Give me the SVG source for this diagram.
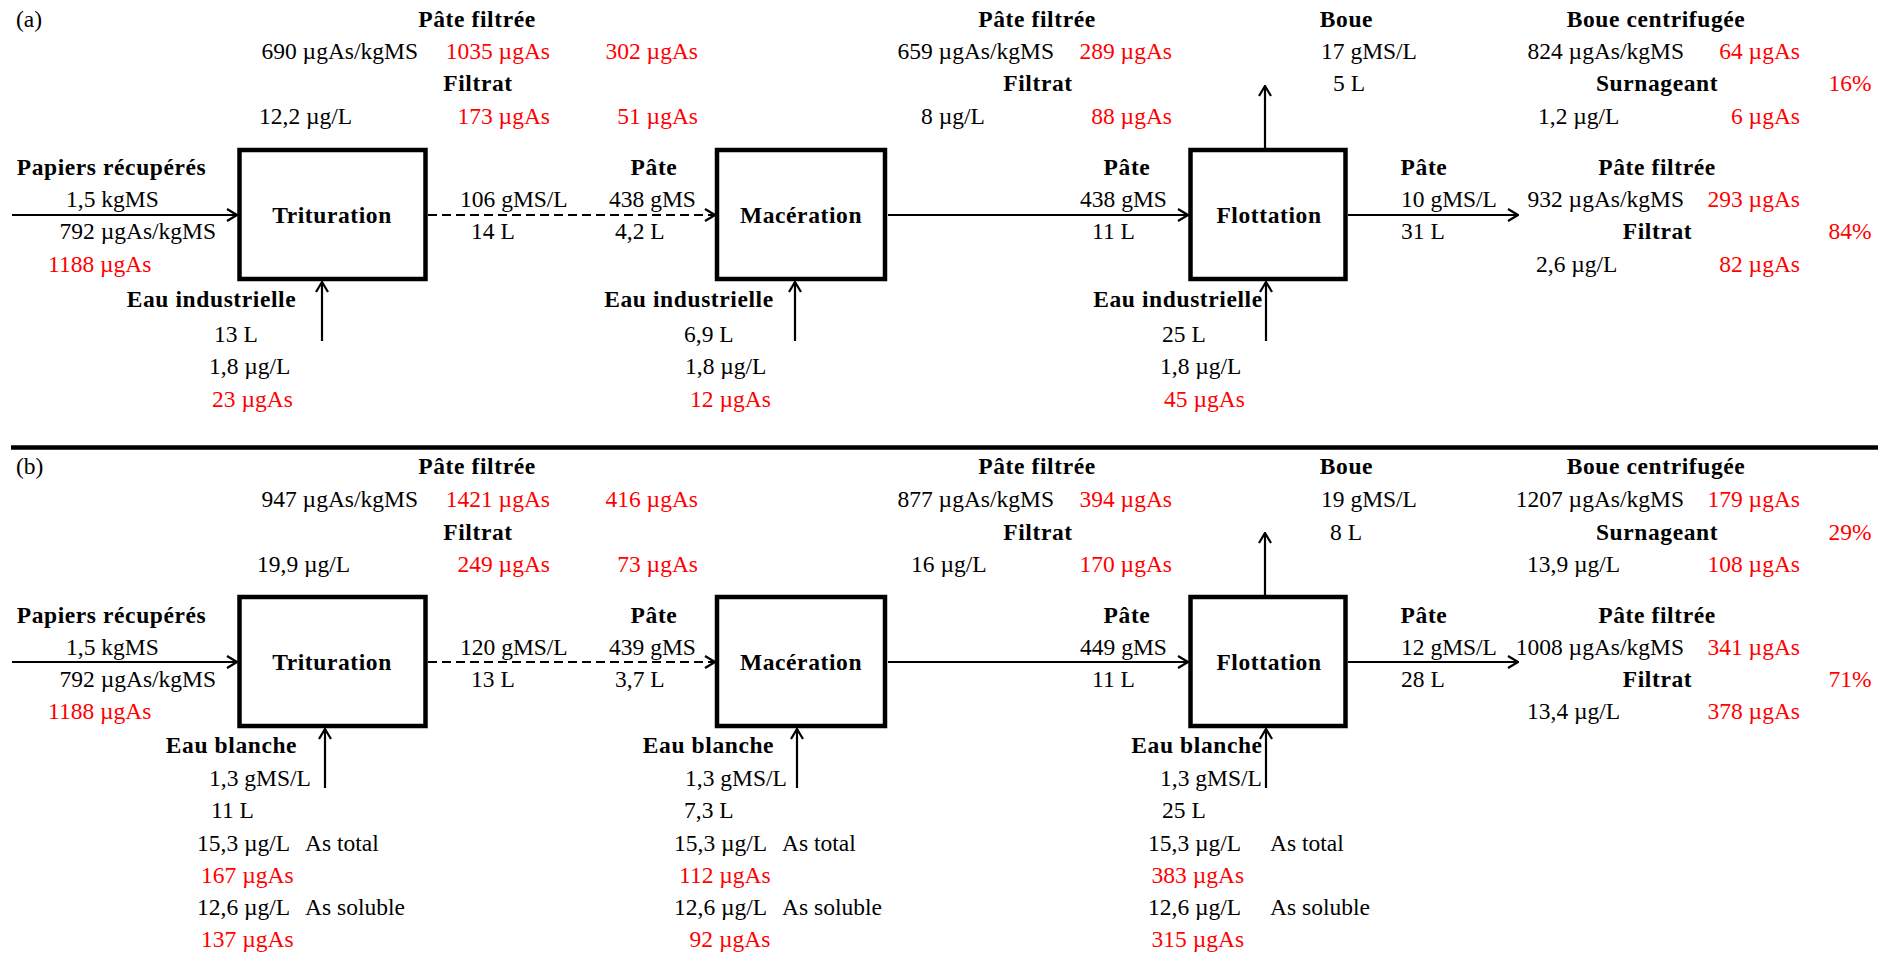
<svg xmlns="http://www.w3.org/2000/svg" width="1890" height="956" viewBox="0 0 1890 956">
<defs>
<style>
text{font-family:"Liberation Serif","Times New Roman",serif;font-size:23.5px;fill:#000}
.b{font-weight:bold;text-anchor:middle;letter-spacing:0.6px}
.r{fill:#ff0000}
.e{text-anchor:end}
.box{fill:#fff;stroke:#000;stroke-width:4.5}
.c{fill:none;stroke:#000;stroke-width:2.2;marker-end:url(#ah)}
.d{stroke-dasharray:9 5}
</style>
<marker id="ah" viewBox="0 0 12 14" refX="11" refY="7" markerWidth="12" markerHeight="14" markerUnits="userSpaceOnUse" orient="auto">
<path d="M1,1 L11,7 L1,13" fill="none" stroke="#000" stroke-width="2.2"/>
</marker>
</defs>
<rect width="1890" height="956" fill="#fff"/>

<g id="connectors">
<line class="c" x1="12" y1="215" x2="237" y2="215"/>
<line class="c d" x1="428" y1="215" x2="715" y2="215"/>
<line class="c" x1="888" y1="215" x2="1188" y2="215"/>
<line class="c" x1="1348" y1="215" x2="1518" y2="215"/>
<line class="c" x1="1265" y1="148" x2="1265" y2="86"/>
<line class="c" x1="322" y1="341" x2="322" y2="282"/>
<line class="c" x1="795" y1="341" x2="795" y2="282"/>
<line class="c" x1="1266" y1="341" x2="1266" y2="282"/>
<line class="c" x1="12" y1="662" x2="237" y2="662"/>
<line class="c d" x1="428" y1="662" x2="715" y2="662"/>
<line class="c" x1="888" y1="662" x2="1188" y2="662"/>
<line class="c" x1="1348" y1="662" x2="1518" y2="662"/>
<line class="c" x1="1265" y1="595" x2="1265" y2="533"/>
<line class="c" x1="325" y1="788" x2="325" y2="729"/>
<line class="c" x1="797" y1="788" x2="797" y2="729"/>
<line class="c" x1="1266" y1="788" x2="1266" y2="729"/>
</g>

<line id="separator" x1="11" y1="447.5" x2="1878" y2="447.5" stroke="#000" stroke-width="4.5"/>

<!-- Section (a) -->
<g id="a-label"><text x="16" y="27">(a)</text></g>

<g id="a-trituration">
<rect class="box" x="239.5" y="150" width="186" height="129"/>
<text class="b" x="332" y="223">Trituration</text>
</g>
<g id="a-maceration">
<rect class="box" x="717" y="150" width="168" height="129"/>
<text class="b" x="801" y="223">Macération</text>
</g>
<g id="a-flottation">
<rect class="box" x="1190.5" y="150" width="155" height="129"/>
<text class="b" x="1269" y="223">Flottation</text>
</g>

<g id="a-trit-out">
<text class="b" x="477" y="27">Pâte filtrée</text>
<text class="e" x="418" y="58.5">690 µgAs/kgMS</text>
<text class="r e" x="550" y="58.5">1035 µgAs</text>
<text class="r e" x="698" y="58.5">302 µgAs</text>
<text class="b" x="478" y="91">Filtrat</text>
<text x="259" y="124">12,2 µg/L</text>
<text class="r e" x="550" y="124">173 µgAs</text>
<text class="r e" x="698" y="124">51 µgAs</text>
</g>
<g id="a-papiers">
<text class="b" x="111.5" y="175">Papiers récupérés</text>
<text x="66" y="207">1,5 kgMS</text>
<text x="59.5" y="239">792 µgAs/kgMS</text>
<text class="r" x="48" y="271.5">1188 µgAs</text>
</g>
<g id="a-eau1">
<text class="b" x="211.5" y="307">Eau industrielle</text>
<text x="214" y="341.5">13 L</text>
<text x="209" y="374">1,8 µg/L</text>
<text class="r" x="212" y="406.5">23 µgAs</text>
</g>
<g id="a-flow1">
<text x="460" y="207">106 gMS/L</text>
<text x="471" y="239">14 L</text>
<text class="b" x="654" y="175">Pâte</text>
<text x="609" y="207">438 gMS</text>
<text x="615" y="239">4,2 L</text>
</g>
<g id="a-eau2">
<text class="b" x="689" y="307">Eau industrielle</text>
<text x="684" y="341.5">6,9 L</text>
<text x="685" y="374">1,8 µg/L</text>
<text class="r" x="690" y="406.5">12 µgAs</text>
</g>
<g id="a-mac-out">
<text class="b" x="1037" y="27">Pâte filtrée</text>
<text class="e" x="1054" y="58.5">659 µgAs/kgMS</text>
<text class="r e" x="1172" y="58.5">289 µgAs</text>
<text class="b" x="1038" y="91">Filtrat</text>
<text x="921" y="124">8 µg/L</text>
<text class="r e" x="1172" y="124">88 µgAs</text>
</g>
<g id="a-flow2">
<text class="b" x="1127" y="175">Pâte</text>
<text x="1080" y="207">438 gMS</text>
<text x="1092" y="239">11 L</text>
</g>
<g id="a-eau3">
<text class="b" x="1178" y="307">Eau industrielle</text>
<text x="1162" y="341.5">25 L</text>
<text x="1160" y="374">1,8 µg/L</text>
<text class="r" x="1164" y="406.5">45 µgAs</text>
</g>
<g id="a-boue">
<text class="b" x="1346.5" y="27">Boue</text>
<text x="1321" y="58.5">17 gMS/L</text>
<text x="1333" y="91">5 L</text>
<text class="b" x="1656" y="27">Boue centrifugée</text>
<text class="e" x="1684" y="58.5">824 µgAs/kgMS</text>
<text class="r e" x="1800" y="58.5">64 µgAs</text>
<text class="b" x="1657" y="91">Surnageant</text>
<text class="r e" x="1871.5" y="91">16%</text>
<text x="1538" y="124">1,2 µg/L</text>
<text class="r e" x="1800" y="124">6 µgAs</text>
</g>
<g id="a-pate-out">
<text class="b" x="1424" y="175">Pâte</text>
<text x="1401" y="207">10 gMS/L</text>
<text x="1401" y="239">31 L</text>
<text class="b" x="1657" y="175">Pâte filtrée</text>
<text class="e" x="1684" y="207">932 µgAs/kgMS</text>
<text class="r e" x="1800" y="207">293 µgAs</text>
<text class="b" x="1657.5" y="239">Filtrat</text>
<text class="r e" x="1871.5" y="239">84%</text>
<text x="1536" y="271.5">2,6 µg/L</text>
<text class="r e" x="1800" y="271.5">82 µgAs</text>
</g>

<!-- Section (b) -->
<g id="b-label"><text x="16" y="473.5">(b)</text></g>

<g id="b-trituration">
<rect class="box" x="239.5" y="597" width="186" height="129"/>
<text class="b" x="332" y="670">Trituration</text>
</g>
<g id="b-maceration">
<rect class="box" x="717" y="597" width="168" height="129"/>
<text class="b" x="801" y="670">Macération</text>
</g>
<g id="b-flottation">
<rect class="box" x="1190.5" y="597" width="155" height="129"/>
<text class="b" x="1269" y="670">Flottation</text>
</g>

<g id="b-trit-out">
<text class="b" x="477" y="473.5">Pâte filtrée</text>
<text class="e" x="418" y="506.5">947 µgAs/kgMS</text>
<text class="r e" x="550" y="506.5">1421 µgAs</text>
<text class="r e" x="698" y="506.5">416 µgAs</text>
<text class="b" x="478" y="539.5">Filtrat</text>
<text x="257" y="571.5">19,9 µg/L</text>
<text class="r e" x="550" y="571.5">249 µgAs</text>
<text class="r e" x="698" y="571.5">73 µgAs</text>
</g>
<g id="b-papiers">
<text class="b" x="111.5" y="623">Papiers récupérés</text>
<text x="66" y="655">1,5 kgMS</text>
<text x="59.5" y="687">792 µgAs/kgMS</text>
<text class="r" x="48" y="719">1188 µgAs</text>
</g>
<g id="b-eau1">
<text class="b" x="231.5" y="753">Eau blanche</text>
<text x="209" y="786">1,3 gMS/L</text>
<text x="211" y="818">11 L</text>
<text x="197" y="850.5">15,3 µg/L</text>
<text x="305" y="850.5">As total</text>
<text class="r" x="201" y="883">167 µgAs</text>
<text x="197" y="915">12,6 µg/L</text>
<text x="305" y="915">As soluble</text>
<text class="r" x="201" y="947">137 µgAs</text>
</g>
<g id="b-flow1">
<text x="460" y="655">120 gMS/L</text>
<text x="471" y="687">13 L</text>
<text class="b" x="654" y="623">Pâte</text>
<text x="609" y="655">439 gMS</text>
<text x="615" y="687">3,7 L</text>
</g>
<g id="b-eau2">
<text class="b" x="708.5" y="753">Eau blanche</text>
<text x="685" y="786">1,3 gMS/L</text>
<text x="684" y="818">7,3 L</text>
<text x="674" y="850.5">15,3 µg/L</text>
<text x="782" y="850.5">As total</text>
<text class="r" x="679" y="883">112 µgAs</text>
<text x="674" y="915">12,6 µg/L</text>
<text x="782" y="915">As soluble</text>
<text class="r" x="689.5" y="947">92 µgAs</text>
</g>
<g id="b-mac-out">
<text class="b" x="1037" y="473.5">Pâte filtrée</text>
<text class="e" x="1054" y="506.5">877 µgAs/kgMS</text>
<text class="r e" x="1172" y="506.5">394 µgAs</text>
<text class="b" x="1038" y="539.5">Filtrat</text>
<text x="911" y="571.5">16 µg/L</text>
<text class="r e" x="1172" y="571.5">170 µgAs</text>
</g>
<g id="b-flow2">
<text class="b" x="1127" y="623">Pâte</text>
<text x="1080" y="655">449 gMS</text>
<text x="1092" y="687">11 L</text>
</g>
<g id="b-eau3">
<text class="b" x="1197" y="753">Eau blanche</text>
<text x="1160" y="786">1,3 gMS/L</text>
<text x="1162" y="818">25 L</text>
<text x="1148" y="850.5">15,3 µg/L</text>
<text x="1270" y="850.5">As total</text>
<text class="r" x="1151.5" y="883">383 µgAs</text>
<text x="1148" y="915">12,6 µg/L</text>
<text x="1270" y="915">As soluble</text>
<text class="r" x="1151.5" y="947">315 µgAs</text>
</g>
<g id="b-boue">
<text class="b" x="1346.5" y="473.5">Boue</text>
<text x="1321" y="506.5">19 gMS/L</text>
<text x="1330" y="539.5">8 L</text>
<text class="b" x="1656" y="473.5">Boue centrifugée</text>
<text class="e" x="1684" y="506.5">1207 µgAs/kgMS</text>
<text class="r e" x="1800" y="506.5">179 µgAs</text>
<text class="b" x="1657" y="539.5">Surnageant</text>
<text class="r e" x="1871.5" y="539.5">29%</text>
<text x="1527" y="571.5">13,9 µg/L</text>
<text class="r e" x="1800" y="571.5">108 µgAs</text>
</g>
<g id="b-pate-out">
<text class="b" x="1424" y="623">Pâte</text>
<text x="1401" y="655">12 gMS/L</text>
<text x="1401" y="687">28 L</text>
<text class="b" x="1657" y="623">Pâte filtrée</text>
<text class="e" x="1684" y="655">1008 µgAs/kgMS</text>
<text class="r e" x="1800" y="655">341 µgAs</text>
<text class="b" x="1657.5" y="687">Filtrat</text>
<text class="r e" x="1871.5" y="687">71%</text>
<text x="1527" y="719">13,4 µg/L</text>
<text class="r e" x="1800" y="719">378 µgAs</text>
</g>
</svg>
